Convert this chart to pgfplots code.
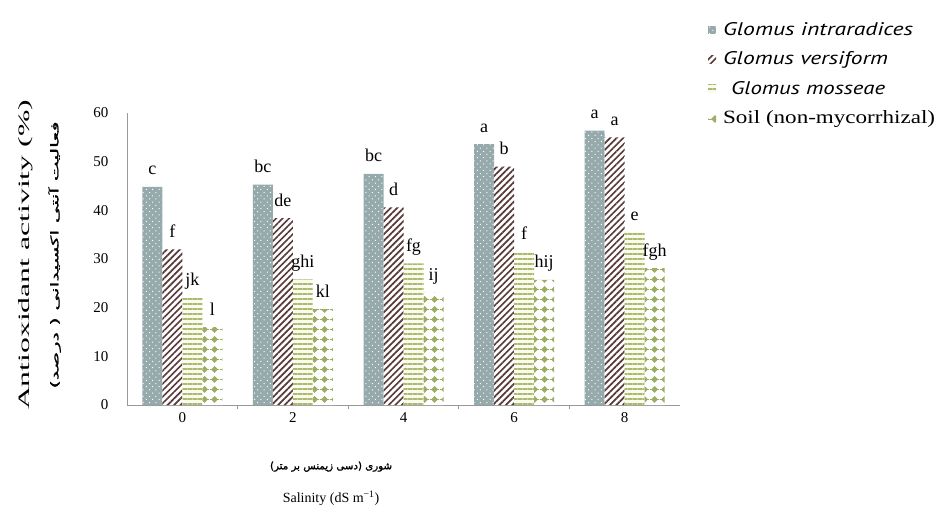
\documentclass[border=0pt]{standalone}
\usepackage{fontspec}
\setmainfont{Liberation Serif}
\newfontfamily\legfont{PT Sans}
\newfontfamily\arabicfont[Script=Arabic, FakeBold=1.5]{DejaVu Sans}
\usepackage{graphicx}
\usepackage{pgfplots}
\pgfplotsset{compat=1.18}
\usetikzlibrary{patterns,patterns.meta}
\TeXXeTstate=1

\definecolor{cGI}{RGB}{150,170,172}
\definecolor{cGV}{RGB}{88,58,58}
\definecolor{cGM}{RGB}{172,186,112}
\definecolor{cS}{RGB}{156,173,100}

\tikzdeclarepattern{
  name=mydiamonds,
  type=uncolored,
  bounding box={(0bp,0bp) and (10bp,10bp)},
  tile size={(10bp,10bp)},
  code={
    \fill (5bp,1.2bp) -- (8.8bp,5bp) -- (5bp,8.8bp) -- (1.2bp,5bp) -- cycle;
    \fill (0bp,4.6bp) rectangle (10bp,5.4bp);
  }
}

\begin{document}
\begin{tikzpicture}
\path[use as bounding box] (0,0) rectangle (940bp,514bp);
\begin{axis}[
  at={(127bp,109bp)}, anchor=south west,
  scale only axis, width=553bp, height=292bp,
  xmin=-0.5, xmax=4.5, ymin=0, ymax=60,
  axis x line=bottom, axis y line=left,
  axis line style={-, draw=black!40, line width=1bp},
  ybar=0pt, bar width=20bp,
  xtick={0,1,2,3,4}, xticklabels={0,2,4,6,8},
  ytick={0,10,...,60},
  major tick length=0pt,
  extra x ticks={0.5,1.5,2.5,3.5}, extra x tick labels={},
  extra x tick style={major tick length=4bp, tick align=outside, tick style={draw=black!40, line width=0.8bp}},
  tick label style={font=\fontsize{15bp}{18bp}\selectfont},
  /pgf/number format/assume math mode=true,
  xticklabel shift=4bp, yticklabel shift=15bp,
  clip=false,
  nodes near coords, point meta=explicit symbolic,
  every node near coord/.append style={font=\fontsize{18bp}{20bp}\selectfont, anchor=base, yshift=12bp, inner sep=0pt},
  xlabel={\resizebox{122bp}{!}{\arabicfont\beginR شوری (دسی زیمنس بر متر)\endR}\\Salinity (dS m\textsuperscript{−1})},
  xlabel style={align=center, font=\fontsize{14bp}{33bp}\selectfont, at={(axis description cs:0.369,0)}, anchor=north, yshift=-53bp},
  ylabel={\resizebox{310bp}{11bp}{Antioxidant activity (\%)}\\\resizebox{267bp}{10bp}{\arabicfont\beginR فعالیت آنتی اکسیدانی ( درصد)\endR}},
  ylabel style={align=center, font=\fontsize{14bp}{29bp}\selectfont, at={(axis description cs:-0.158,0.514)}, anchor=center},
  legend style={at={(1.045,1.3245)}, anchor=north west, draw=none, fill=none,
    font=\fontsize{15bp}{17bp}\selectfont, row sep=11bp,
    /tikz/every odd column/.append style={column sep=5bp}},
  legend cell align=left,
  legend image code/.code={\fill[#1] (0bp,-4bp) rectangle (8bp,4bp);},
]
\addplot[fill=cGI, draw=none, postaction={pattern={Dots[distance=4.5bp,radius=0.7bp,angle=45]}, pattern color=white}]
  coordinates {(0,44.8) [c] (1,45.3) [bc] (2,47.5) [bc] (3,53.6) [a] (4,56.4) [a]};
\addlegendentry{\resizebox{190bp}{13bp}{\legfont\itshape Glomus intraradices}}
\addplot[fill=white, draw=none, postaction={pattern={Lines[angle=45,distance=4.6bp,line width=1.7bp]}, pattern color=cGV}]
  coordinates {(0,32.0) [f] (1,38.4) [de] (2,40.6) [d] (3,49.0) [b] (4,55.0) [a]};
\addlegendentry{\resizebox{165bp}{13bp}{\legfont\itshape Glomus versiform}}
\addplot[fill={rgb,255:red,250;green,250;blue,238}, draw=none, postaction={pattern={Lines[angle=0,distance=5bp,line width=2.6bp]}, pattern color=cGM}]
  coordinates {(0,22.0) [jk] (1,25.8) [ghi] (2,29.1) [fg] (3,31.5) [f] (4,35.5) [e]};
\addlegendentry{\hspace*{8bp}\resizebox{154bp}{13bp}{\legfont\itshape Glomus mosseae}}
\addplot[fill=white, draw=none, postaction={pattern=mydiamonds, pattern color=cS}]
  coordinates {(0,16.0) [l] (1,19.7) [kl] (2,23.1) [ij] (3,25.7) [hij] (4,28.1) [fgh]};
\addlegendentry{\resizebox{212bp}{13bp}{Soil (non-mycorrhizal)}}
\end{axis}
\end{tikzpicture}
\end{document}
